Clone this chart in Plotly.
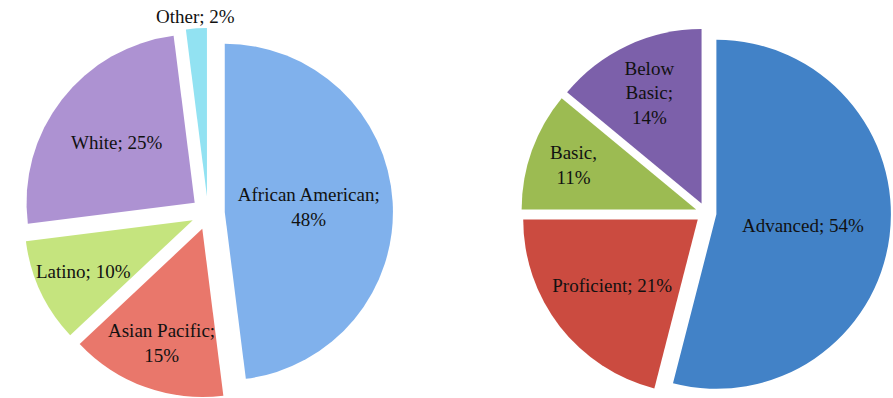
import math
import plotly.graph_objects as go

# Left pie: student ethnicity
eth_labels = ["African American", "Asian Pacific", "Latino", "White", "Other"]
eth_values = [48, 15, 10, 25, 2]
eth_text = ["African American;<br>48%", "Asian Pacific;<br>15%", "Latino; 10%", "White; 25%", "Other; 2%"]
eth_colors = ["#80b1ec", "#e9776b", "#c5e47e", "#ad92d2", "#92e2f2"]

# Right pie: performance level
perf_labels = ["Advanced", "Proficient", "Basic", "Below Basic"]
perf_values = [54, 21, 11, 14]
perf_text = ["Advanced; 54%", "Proficient; 21%", "Basic,<br>11%", "Below<br>Basic;<br>14%"]
perf_colors = ["#4282c7", "#cb4b40", "#9cbb52", "#7c60aa"]

W, H = 893, 398
font = dict(family="Liberation Serif, Times New Roman, serif", size=19, color="#111111")

left_dom = dict(x=[0.0, 0.4658], y=[0.0, 0.9296])
right_dom = dict(x=[0.5834, 0.9978], y=[0.0, 0.9296])
left_pull = 0.1
right_pull = 0.06

# labels that are placed as free text (slice index -> radial fraction of radius)
left_free = {1: 0.72, 2: 0.72, 4: 1.07}


def label_pos(values, idx, dom, pull, frac):
    """Paper position of a label along the slice's mid angle (same geometry as the pie)."""
    w = W * (dom["x"][1] - dom["x"][0])
    h = H * (dom["y"][1] - dom["y"][0])
    cx = W * (dom["x"][0] + dom["x"][1]) / 2
    cy = H * (1 - dom["y"][0]) - h / 2
    r = min(w, h) / 2 / (1 + pull)
    total = sum(values)
    mid = (sum(values[:idx]) + values[idx] / 2) / total * 2 * math.pi
    d = r * (pull + frac)
    px = cx + d * math.sin(mid)
    py = cy - d * math.cos(mid)
    return px / W, 1 - py / H


left_pie_text = [("" if i in left_free else t) for i, t in enumerate(eth_text)]

fig = go.Figure()
fig.add_trace(go.Pie(
    labels=eth_labels, values=eth_values, text=left_pie_text, textinfo="text",
    sort=False, direction="clockwise", rotation=0,
    pull=[left_pull] * len(eth_values),
    marker=dict(colors=eth_colors, line=dict(width=0)),
    textposition="inside",
    insidetextorientation="horizontal",
    textfont=font, insidetextfont=font,
    automargin=False,
    domain=left_dom,
    hoverinfo="label+percent", showlegend=False,
))
fig.add_trace(go.Pie(
    labels=perf_labels, values=perf_values, text=perf_text, textinfo="text",
    sort=False, direction="clockwise", rotation=0,
    pull=[right_pull] * len(perf_values),
    marker=dict(colors=perf_colors, line=dict(width=0)),
    textposition="inside",
    insidetextorientation="horizontal",
    textfont=font, insidetextfont=font,
    automargin=False,
    domain=right_dom,
    hoverinfo="label+percent", showlegend=False,
))

for i, frac in left_free.items():
    x, y = label_pos(eth_values, i, left_dom, left_pull, frac)
    fig.add_annotation(x=x, y=y, xref="paper", yref="paper", text=eth_text[i],
                       showarrow=False, xanchor="center", yanchor="middle",
                       font=font, align="center")

fig.update_layout(
    width=W, height=H,
    margin=dict(l=0, r=0, t=0, b=0, pad=0, autoexpand=False),
    paper_bgcolor="white", plot_bgcolor="white",
    showlegend=False,
)
fig.write_html("out.html", config={"responsive": False})
